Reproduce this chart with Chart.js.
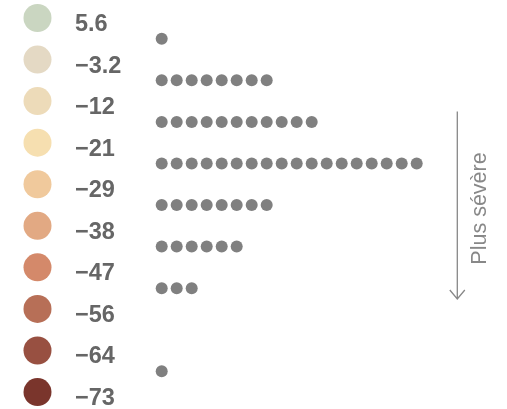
<!DOCTYPE html>
<html>
<head>
<meta charset="utf-8">
<script src="https://cdn.jsdelivr.net/npm/chart.js@4/dist/chart.umd.min.js"></script>
<style>
html,body{margin:0;padding:0;background:#fff;}
#wrap{width:507px;height:409px;position:relative;}
</style>
</head>
<body>
<div id="wrap"><canvas id="c" width="507" height="409"></canvas></div>
<script>
// ---- data ----
const thresholdLabels = ['5.6', '\u22123.2', '\u221212', '\u221221', '\u221229', '\u221238', '\u221247', '\u221256', '\u221264', '\u221273'];
const thresholdColors = ['#cad6c1', '#e4d9c4', '#eddbb9', '#f6dfb0', '#f0c99c', '#e2a983', '#d4896a', '#b76f57', '#985041', '#7a352c'];
const binCounts = [1, 8, 11, 18, 8, 6, 3, 0, 1];
const arrowLabel = 'Plus s\u00e9v\u00e8re';

// ---- layout (pixels) ----
const W = 507, H = 409;
const DOT_X0 = 161.7, DOT_STEP = 15;      // x of first dot, spacing
const ROW_Y0 = 18, ROW_STEP = 41.56;      // y of first legend row, spacing
const LEG_X = 37.5, LAB_X = 75;

const xMin = -DOT_X0 / DOT_STEP, xMax = (W - DOT_X0) / DOT_STEP;
const yMin = -ROW_Y0 / ROW_STEP, yMax = (H - ROW_Y0) / ROW_STEP;
const legX = (LEG_X - DOT_X0) / DOT_STEP;
const labX = (LAB_X - DOT_X0) / DOT_STEP;

const legendPoints = thresholdLabels.map((_, k) => ({x: legX, y: k}));
const dotPoints = [];
binCounts.forEach((n, i) => { for (let j = 0; j < n; j++) dotPoints.push({x: j, y: i + 0.5}); });

const labelPlugin = {
  id: 'labels',
  afterDatasetsDraw(chart) {
    const ctx = chart.ctx, xs = chart.scales.x, ys = chart.scales.y;
    ctx.save();
    ctx.font = 'bold 23.5px "Liberation Sans", Arial, sans-serif';
    ctx.fillStyle = '#666666';
    ctx.textAlign = 'left';
    ctx.textBaseline = 'alphabetic';
    thresholdLabels.forEach((t, k) => {
      ctx.fillText(t, xs.getPixelForValue(labX), ys.getPixelForValue(k) + 13);
    });
    // arrow
    const ax = 457.3, top = 111.5, tip = 299;
    ctx.strokeStyle = '#888888';
    ctx.lineWidth = 1.3;
    ctx.beginPath();
    ctx.moveTo(ax, top); ctx.lineTo(ax, tip);
    ctx.moveTo(ax - 7.5, tip - 9); ctx.lineTo(ax, tip); ctx.lineTo(ax + 7.5, tip - 9);
    ctx.stroke();
    // rotated text
    ctx.translate(486, 208.5);
    ctx.rotate(-Math.PI / 2);
    ctx.font = '21.5px "Liberation Sans", Arial, sans-serif';
    ctx.fillStyle = '#888888';
    ctx.textAlign = 'center';
    ctx.textBaseline = 'alphabetic';
    ctx.fillText(arrowLabel, 0, 0);
    ctx.restore();
  }
};

new Chart(document.getElementById('c'), {
  type: 'scatter',
  data: {
    datasets: [
      {
        data: legendPoints,
        pointRadius: 14,
        pointHoverRadius: 14,
        pointBackgroundColor: thresholdColors,
        pointBorderColor: thresholdColors,
        pointBorderWidth: 0,
        clip: false
      },
      {
        data: dotPoints,
        pointRadius: 6,
        pointHoverRadius: 6,
        pointBackgroundColor: '#808080',
        pointBorderWidth: 0,
        clip: false
      }
    ]
  },
  options: {
    responsive: false,
    devicePixelRatio: 1,
    animation: false,
    events: [],
    layout: {padding: 0, autoPadding: false},
    plugins: {legend: {display: false}, tooltip: {enabled: false}},
    scales: {
      x: {type: 'linear', display: false, min: xMin, max: xMax},
      y: {type: 'linear', display: false, min: yMin, max: yMax, reverse: true}
    }
  },
  plugins: [labelPlugin]
});
</script>
</body>
</html>
